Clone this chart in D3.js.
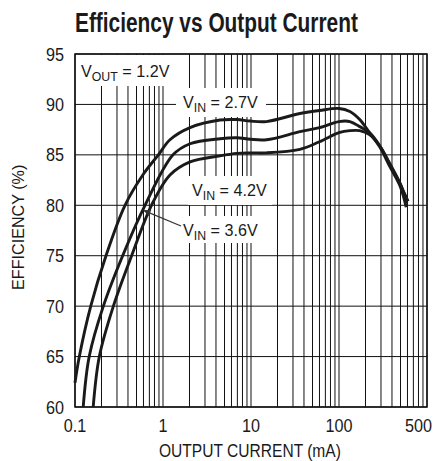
<!DOCTYPE html>
<html>
<head>
<meta charset="utf-8">
<script src="https://cdn.jsdelivr.net/npm/d3@7"></script>
<style>
  html, body { margin: 0; padding: 0; background: #fff; }
  svg { display: block; }
  text { font-family: "Liberation Sans", Arial, Helvetica, sans-serif; fill: #1a1a1a; }
</style>
</head>
<body>
<svg id="chart" width="433" height="461"></svg>
<script>
// ---- data ----
const chartTitle = "Efficiency vs Output Current";
const xAxisTitle = "OUTPUT CURRENT (mA)";
const yAxisTitle = "EFFICIENCY (%)";
const xTickValues = [0.1, 1, 10, 100, 1000];
const xTickLabels = ["0.1", "1", "10", "100", "500"];
const yTickValues = [60, 65, 70, 75, 80, 85, 90, 95];

// VIN = 2.7V
const currentA = [0.1, 0.112, 0.151, 0.225, 0.37, 0.6, 0.886, 1.2, 2.03, 4.44, 6.9, 9.8, 15, 36, 60, 100, 133, 172, 222, 290, 380, 500, 580];
const effA     = [62.4, 65, 70, 75, 80, 83.1, 85, 86.5, 87.7, 88.45, 88.5, 88.35, 88.3, 89.1, 89.4, 89.6, 89.3, 88.5, 87.2, 85.8, 83.8, 81.8, 79.8];
// VIN = 3.6V
const currentB = [0.124, 0.145, 0.21, 0.348, 0.625, 1.3, 2.03, 4.44, 6.9, 9.8, 15, 36, 60, 100, 133, 172, 222, 290, 380, 500, 610];
const effB     = [60, 65, 70, 75, 80, 85, 86.1, 86.6, 86.7, 86.55, 86.5, 87.3, 87.7, 88.3, 88.3, 87.8, 87.2, 85.9, 84.0, 82.0, 80.4];
// VIN = 4.2V
const currentC = [0.161, 0.189, 0.273, 0.44, 0.74, 1.2, 2.03, 4.44, 6.9, 9.8, 15, 36, 60, 100, 133, 172, 222, 290, 380, 500, 590];
const effC     = [60, 65, 70, 75, 80, 83.0, 84.3, 84.9, 85.15, 85.2, 85.2, 85.55, 86.3, 87.2, 87.4, 87.4, 87.0, 85.9, 84.1, 82.1, 80.2];

const seriesNames = ["2.7V", "3.6V", "4.2V"];

// ---- drawing ----
const svg = d3.select("#chart");
const x = d3.scaleLog().domain([0.1, 1000]).range([75, 427]);
const y = d3.scaleLinear().domain([60, 95]).range([407, 54]);

// grid
const minor = [];
[0.1, 1, 10, 100].forEach(d => { for (let k = 1; k <= 9; k++) minor.push(d * k); });
minor.push(1000);
const grid = svg.append("g");
grid.selectAll("line.v").data(minor).join("line")
  .attr("x1", d => x(d)).attr("x2", d => x(d))
  .attr("y1", y(60)).attr("y2", y(95))
  .attr("stroke", "#111").attr("stroke-width", 1);
grid.selectAll("line.h").data(yTickValues).join("line")
  .attr("x1", x(0.1)).attr("x2", x(1000))
  .attr("y1", d => y(d)).attr("y2", d => y(d))
  .attr("stroke", "#111").attr("stroke-width", 1);

// label backgrounds (white boxes that break the grid)
const boxes = [
  [76, 55, 100, 31],   // VOUT
  [176, 88, 90, 29],   // VIN 2.7
  [188, 176, 84, 29],  // VIN 4.2
  [178, 216, 86, 27]   // VIN 3.6
];
svg.append("g").selectAll("rect").data(boxes).join("rect")
  .attr("x", d => d[0]).attr("y", d => d[1]).attr("width", d => d[2]).attr("height", d => d[3])
  .attr("fill", "#fff");

// frame
svg.append("rect")
  .attr("x", x(0.1)).attr("y", y(95))
  .attr("width", x(1000) - x(0.1)).attr("height", y(60) - y(95))
  .attr("fill", "none").attr("stroke", "#111").attr("stroke-width", 1.5);

// curves
const line = d3.line().x(d => x(d[0])).y(d => y(d[1])).curve(d3.curveCatmullRom.alpha(0.5));
const series = [
  d3.zip(currentA, effA),
  d3.zip(currentB, effB),
  d3.zip(currentC, effC)
];
svg.append("g").selectAll("path").data(series).join("path")
  .attr("d", line)
  .attr("fill", "none")
  .attr("stroke", "#1a1a1a")
  .attr("stroke-width", 2.9)
  .attr("stroke-linecap", "butt");

// helper: horizontally condensed text
function ctext(px, py, str, size, anchor, sx, rot) {
  const t = svg.append("text")
    .attr("transform", `translate(${px},${py})${rot ? " rotate(" + rot + ")" : ""} scale(${sx},1)`)
    .attr("font-size", size)
    .attr("text-anchor", anchor || "start")
    .text(str);
  return t;
}

// y tick labels
yTickValues.forEach(v => ctext(64, y(v) + 6.5, String(v), 18, "end", 0.9));

// x tick labels
xTickValues.forEach((v, i) => {
  const last = i === xTickValues.length - 1;
  ctext(last ? 432 : x(v), 432, xTickLabels[i], 18, last ? "end" : "middle", 0.9);
});

// titles
ctext(75, 32, chartTitle, 27, "start", 0.773).attr("font-weight", "bold");
ctext(159, 457, xAxisTitle, 19, "start", 0.82);
ctext(24, 290, yAxisTitle, 17, "start", 0.95, -90);

// subscript labels
function subLabel(px, py, sub, rest) {
  const t = svg.append("text")
    .attr("transform", `translate(${px},${py}) scale(0.95,1)`)
    .attr("font-size", 17);
  t.append("tspan").text("V");
  t.append("tspan").attr("font-size", 13).attr("dy", 4).text(sub);
  t.append("tspan").attr("dy", -4).text(rest);
  return t;
}
subLabel(81, 77, "OUT", " = 1.2V");
subLabel(183, 108, "IN", " = " + seriesNames[0]);
subLabel(192, 196, "IN", " = " + seriesNames[2]);
subLabel(183, 236, "IN", " = " + seriesNames[1]);

// arrow to VIN = 3.6V curve
svg.append("defs").append("marker")
  .attr("id", "ah").attr("viewBox", "0 0 10 10").attr("refX", 10).attr("refY", 5)
  .attr("markerWidth", 9).attr("markerHeight", 7).attr("markerUnits", "userSpaceOnUse")
  .attr("orient", "auto")
  .append("path").attr("d", "M0,0 L10,5 L0,10 Z").attr("fill", "#333");
svg.append("line")
  .attr("x1", 181).attr("y1", 226)
  .attr("x2", x(0.6)).attr("y2", y(79.5))
  .attr("stroke", "#333").attr("stroke-width", 1.2)
  .attr("marker-end", "url(#ah)");
</script>
</body>
</html>
